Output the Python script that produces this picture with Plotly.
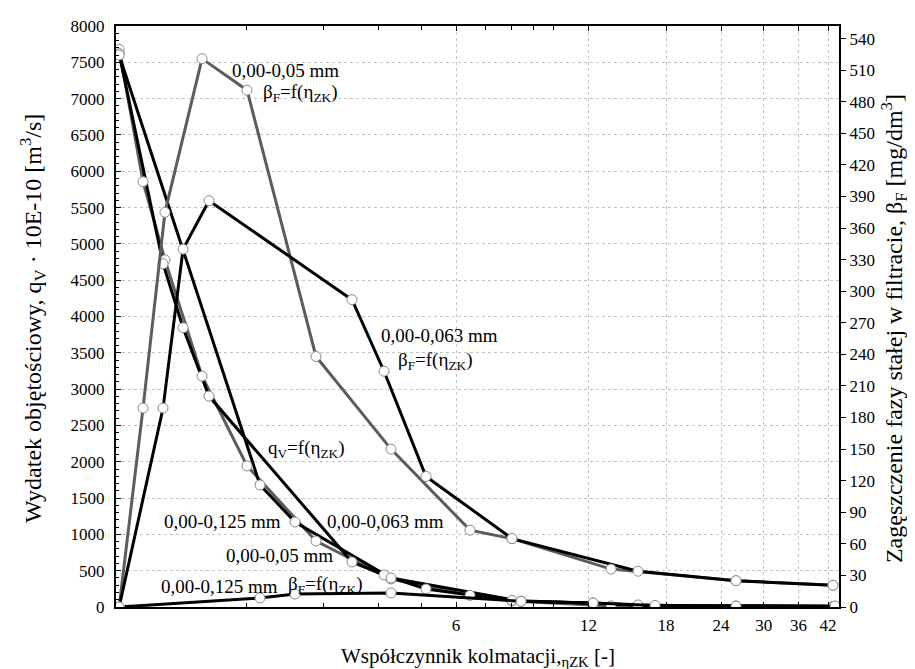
import plotly.graph_objects as go

# ---- data ----
# fraction 0,00-0,05 mm (grey)
eta_005 = [1.03, 1.167, 1.309, 1.589, 2.011, 2.884, 4.270, 6.455, 8.04, 13.50, 25.95, 43.11]
qv_005 = [7680, 5857, 4780, 3179, 1943, 909, 386, 160, 83, 14, 10, 8]
bf_005 = [0, 189, 375, 521, 491, 238, 150, 73, 65, 36, 25, 20.6]

# fraction 0,00-0,063 mm (black)
eta_0063 = [1.03, 1.296, 1.439, 1.648, 3.482, 4.117, 5.128, 8.04, 15.54, 25.95, 43.11]
qv_0063 = [7620, 4727, 3845, 2904, 620, 441, 248, 90, 28, 12, 8]
bf_0063 = [0, 189, 340, 386, 292, 224, 124, 65, 34, 25, 20.6]

# fraction 0,00-0,125 mm (black)
eta_0125 = [1.03, 2.152, 2.584, 4.270, 8.43, 12.29, 16.99, 25.95, 43.56]
qv_0125 = [7600, 1681, 1171, 400, 79, 55, 14, 10, 8]
bf_0125 = [0, 8.6, 12.3, 13.3, 5.4, 3.8, 1.5, 1, 1]

x_ticks = [6, 12, 18, 24, 30, 36, 42]
x_minor = [2, 3, 4, 5, 7, 8, 9, 10]

GREY = "#5c5c5c"
BLACK = "#000000"
FONT = "Liberation Serif, DejaVu Serif, serif"

series = [
    (eta_005, qv_005, "y", GREY),
    (eta_005, bf_005, "y2", GREY),
    (eta_0063, qv_0063, "y", BLACK),
    (eta_0063, bf_0063, "y2", BLACK),
    (eta_0125, qv_0125, "y", BLACK),
    (eta_0125, bf_0125, "y2", BLACK),
]

fig = go.Figure()
for xs, ys, ax, col in series:
    fig.add_trace(go.Scatter(x=xs, y=ys, yaxis=ax, mode="lines",
                             line=dict(color=col, width=3), showlegend=False,
                             hoverinfo="skip"))
for xs, ys, ax, col in series:
    fig.add_trace(go.Scatter(x=xs, y=ys, yaxis=ax, mode="markers",
                             marker=dict(symbol="circle", size=10, color="white",
                                         line=dict(color="#8a8a8a", width=1)),
                             showlegend=False))

ann_font = dict(family=FONT, size=19, color="black")
labels = [
    ("0,00-0,05 mm", 0.3896, 7386),
    ("β<sub>F</sub>=f(η<sub>ZK</sub>)", 0.424, 7083),
    ("0,00-0,063 mm", 0.7417, 3734),
    ("β<sub>F</sub>=f(η<sub>ZK</sub>)", 0.730, 3390),
    ("q<sub>V</sub>=f(η<sub>ZK</sub>)", 0.4373, 2177),
    ("0,00-0,125 mm", 0.2487, 1171),
    ("0,00-0,063 mm", 0.619, 1171),
    ("0,00-0,05 mm", 0.3763, 703),
    ("0,00-0,125 mm", 0.2419, 276),
    ("β<sub>F</sub>=f(η<sub>ZK</sub>)", 0.4805, 303),
]
annotations = [dict(text=t, x=x, y=y, xref="x", yref="y", showarrow=False,
                    font=ann_font, xanchor="center", yanchor="middle")
               for t, x, y in labels]

title_font = dict(family=FONT, size=21, color="black")
ytitle_font = dict(family=FONT, size=24, color="black")
annotations += [
    dict(text="Współczynnik kolmatacji,<sub>ηZK</sub> [-]", x=0.5, y=-0.086,
         xref="paper", yref="paper", showarrow=False, font=title_font,
         xanchor="center", yanchor="middle"),
    dict(text="Wydatek objętościowy, q<sub>V</sub> · 10E-10 [m<sup>3</sup>/s]",
         x=-0.115, y=0.497, xref="paper", yref="paper", showarrow=False,
         font=ytitle_font, textangle=-90, xanchor="center", yanchor="middle"),
    dict(text="Zagęszczenie fazy stałej w filtracie, β<sub>F</sub> [mg/dm<sup>3</sup>]",
         x=1.076, y=0.48, xref="paper", yref="paper", showarrow=False,
         font=ytitle_font, textangle=-90, xanchor="center", yanchor="middle"),
]

tick_font = dict(family=FONT, size=17, color="black")

fig.update_layout(
    width=915, height=669,
    margin=dict(l=108, r=84, t=18, b=70, autoexpand=False),
    paper_bgcolor="white", plot_bgcolor="white",
    font=dict(family=FONT, color="black"),
    annotations=annotations,
    xaxis=dict(type="log", range=[0.0057, 1.6481], automargin=False,
               tickmode="array", tickvals=x_ticks, ticktext=[str(v) for v in x_ticks],
               ticks="inside", ticklen=5, tickcolor="black", tickwidth=1,
               minor=dict(tickmode="array", tickvals=x_minor, ticks="inside",
                          ticklen=4, tickcolor="black", showgrid=False),
               showline=True, linecolor="black", linewidth=2, mirror="ticks",
               showgrid=True, gridcolor="#c4c4c4", griddash="dot", gridwidth=1,
               tickfont=tick_font, ticklabelstandoff=2, zeroline=False),
    yaxis=dict(range=[0, 8000], tickmode="linear", dtick=500, tick0=0, automargin=False,
               ticks="inside", ticklen=5, tickcolor="black",
               minor=dict(dtick=100, ticks="inside", ticklen=3, tickcolor="black",
                          showgrid=False),
               showline=True, linecolor="black", linewidth=2,
               showgrid=True, gridcolor="#c4c4c4", griddash="dot", gridwidth=1,
               tickfont=tick_font, ticklabelstandoff=6, zeroline=False),
    yaxis2=dict(range=[0, 552], tickmode="linear", dtick=30, tick0=0, automargin=False,
                overlaying="y", side="right",
                ticks="outside", ticklen=5, tickcolor="black",
                showline=True, linecolor="black", linewidth=2,
                showgrid=False, zeroline=False, tickfont=tick_font),
)

fig.write_html("out.html")
